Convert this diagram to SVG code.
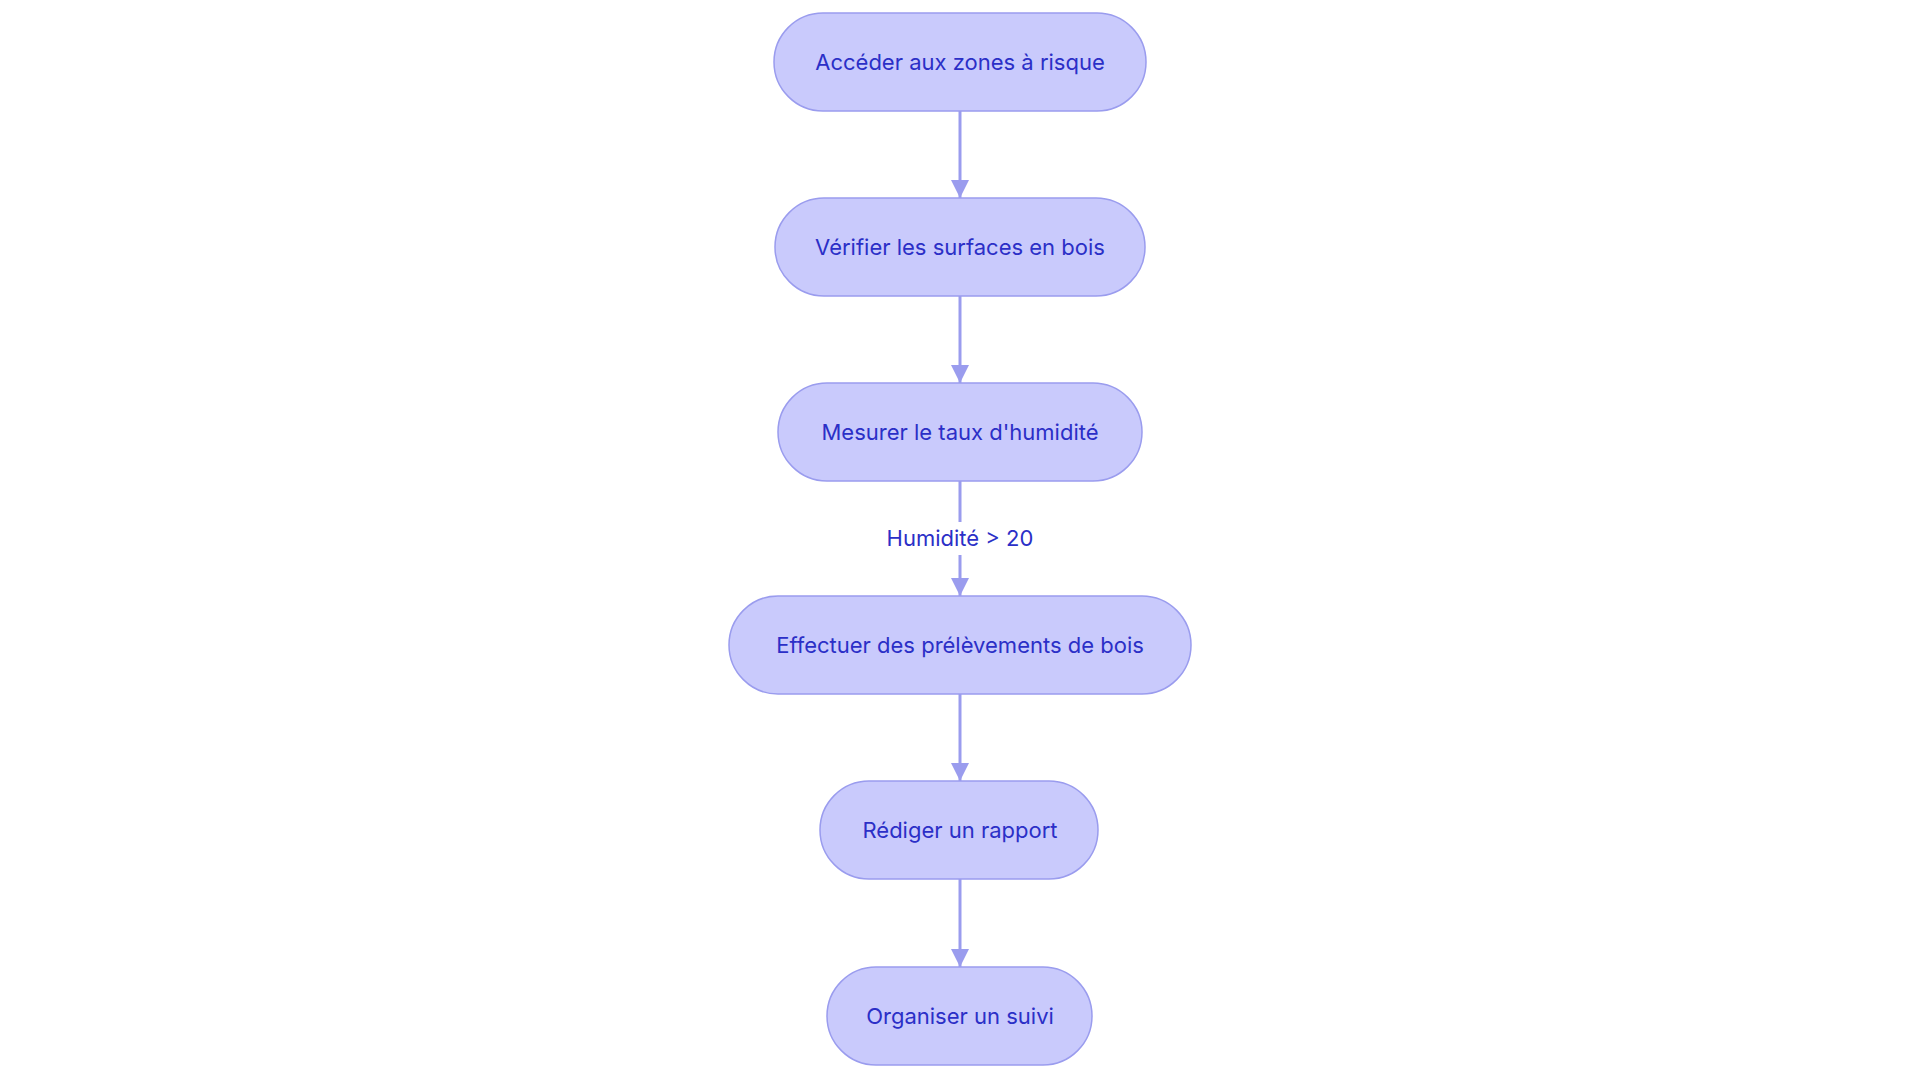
<svg xmlns="http://www.w3.org/2000/svg" width="1920" height="1083" viewBox="0 0 1920 1083">
<style>
.n rect{fill:#c9cafc;stroke:#9a9cee;stroke-width:1.5}
.n text,.lbl{font-family:Inter,"Open Sans",sans-serif;font-size:22px;fill:#2b2fc7;text-anchor:middle;dominant-baseline:central}
.e{stroke:#9a9cee;stroke-width:3;fill:none;marker-end:url(#a)}
</style>
<defs><marker id="a" viewBox="0 0 10 10" refX="10" refY="5" markerWidth="6" markerHeight="6" orient="auto" markerUnits="strokeWidth"><path d="M0,0L10,5L0,10z" fill="#9a9cee"/></marker></defs>
<rect width="1920" height="1083" fill="#fff"/>
<g id="edges">
<path class="e" d="M960,111V198"/>
<path class="e" d="M960,296V383"/>
<path class="e" d="M960,481V522M960,555V596"/>
<path class="e" d="M960,694V781"/>
<path class="e" d="M960,879V967"/>
<text class="lbl" x="960" y="538">Humidité &gt; 20</text>
</g>
<g id="n1" class="n"><rect x="774" y="13" width="372" height="98" rx="49"/><text x="960" y="62">Accéder aux zones à risque</text></g>
<g id="n2" class="n"><rect x="775" y="198" width="370" height="98" rx="49"/><text x="960" y="247">Vérifier les surfaces en bois</text></g>
<g id="n3" class="n"><rect x="778" y="383" width="364" height="98" rx="49"/><text x="960" y="432">Mesurer le taux d'humidité</text></g>
<g id="n4" class="n"><rect x="729" y="596" width="462" height="98" rx="49"/><text x="960" y="645">Effectuer des prélèvements de bois</text></g>
<g id="n5" class="n"><rect x="820" y="781" width="278" height="98" rx="49"/><text x="960" y="830">Rédiger un rapport</text></g>
<g id="n6" class="n"><rect x="827" y="967" width="265" height="98" rx="49"/><text x="960" y="1016">Organiser un suivi</text></g>
</svg>
